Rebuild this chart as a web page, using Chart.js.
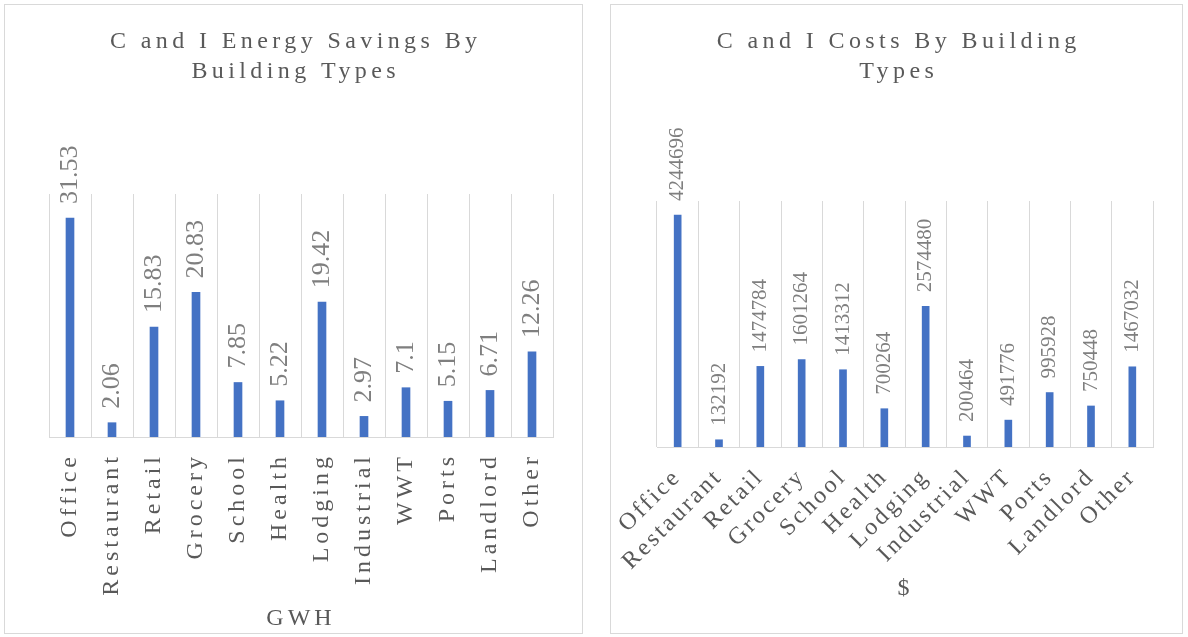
<!DOCTYPE html>
<html><head><meta charset="utf-8">
<script src="https://cdn.jsdelivr.net/npm/chart.js@4/dist/chart.umd.min.js"></script>
<style>
html,body{margin:0;padding:0;background:#fff;}
body{width:1188px;height:637px;position:relative;overflow:hidden;}
.panel{position:absolute;border:1px solid #d9d9d9;background:#fff;}
#p1{left:4px;top:4px;width:577px;height:628px;}
#p2{left:610px;top:4px;width:571px;height:628px;}
canvas{display:block;}
</style></head><body>
<div class="panel" id="p1"><canvas id="c1" width="577" height="628"></canvas></div>
<div class="panel" id="p2"><canvas id="c2" width="571" height="628"></canvas></div>
<script>
const categories = ['Office','Restaurant','Retail','Grocery','School','Health','Lodging','Industrial','WWT','Ports','Landlord','Other'];
const savingsGWH = [31.53, 2.06, 15.83, 20.83, 7.85, 5.22, 19.42, 2.97, 7.1, 5.15, 6.71, 12.26];
const costsUSD = [4244696, 132192, 1474784, 1601264, 1413312, 700264, 2574480, 200464, 491776, 995928, 750448, 1467032];
const savingsTitle = ['C and I Energy Savings By', 'Building Types'];
const costsTitle = ['C and I Costs By Building', 'Types'];
const savingsAxisTitle = 'GWH';
const costsAxisTitle = '$';
const savingsMax = 35;
const costsMax = 4500000;

const SERIF = '"Liberation Serif", "Times New Roman", serif';
const BAR = '#4472C4';
const TXT = '#595959';
const LBL = '#7f7f7f';
const GRID = '#d9d9d9';

function stylePlugin(cfg) {
  return {
    id: 'styleText',
    afterInit(chart) {
      const tb = chart.titleBlock;
      if (tb) {
        const orig = tb.draw;
        tb.draw = function (...a) {
          const c = this.ctx;
          c.save();
          c.letterSpacing = cfg.titleSpacing + 'px';
          // centre the title on the whole canvas, not on the padded area
          const dx = chart.width / 2 - (this.left + this.width / 2) + cfg.titleSpacing / 2;
          c.translate(dx, 0);
          orig.apply(this, a);
          c.restore();
        };
      }
    },
    beforeLayout(chart) { chart.ctx.letterSpacing = cfg.tickSpacing + 'px'; },
    beforeDraw(chart) { chart.ctx.letterSpacing = cfg.tickSpacing + 'px'; },
    afterDatasetsDraw(chart) {
      const ctx = chart.ctx;
      const meta = chart.getDatasetMeta(0);
      const vals = chart.data.datasets[0].data;
      meta.data.forEach((bar, i) => {
        ctx.save();
        ctx.letterSpacing = cfg.labelSpacing + 'px';
        ctx.font = cfg.labelSize + 'px ' + SERIF;
        ctx.fillStyle = LBL;
        ctx.textAlign = 'left';
        ctx.textBaseline = 'middle';
        ctx.translate(bar.x, bar.y - cfg.labelGap);
        ctx.rotate(-Math.PI / 2);
        ctx.fillText(String(vals[i]), 0, 0);
        ctx.restore();
      });
    }
  };
}

function makeChart(id, values, maxVal, title, axisTitle, o) {
  return new Chart(document.getElementById(id), {
    type: 'bar',
    data: {
      labels: categories,
      datasets: [{ data: values, backgroundColor: BAR, borderWidth: 0, barThickness: o.barThickness }]
    },
    options: {
      responsive: false,
      animation: false,
      layout: { padding: o.layoutPadding },
      plugins: {
        legend: { display: false },
        tooltip: { enabled: false },
        title: {
          display: true,
          text: title,
          color: TXT,
          font: { family: SERIF, size: 24, weight: 'normal', lineHeight: 1.25 },
          padding: o.titlePadding
        }
      },
      scales: {
        x: {
          afterFit(scale) {
            scale.height = o.axisHeight;
            scale.paddingLeft = 0;
            scale.paddingRight = 0;
          },
          grid: { display: true, color: GRID, drawTicks: false, offset: true, lineWidth: 1 },
          border: { display: true, color: GRID, width: 1 },
          ticks: {
            autoSkip: false, minRotation: o.rotation, maxRotation: o.rotation,
            padding: o.tickPadding, labelOffset: o.labelOffset,
            color: TXT, font: { family: SERIF, size: o.tickSize }
          },
          title: {
            display: true, text: axisTitle, color: TXT,
            font: { family: SERIF, size: 24, lineHeight: 1.2 },
            padding: o.axisTitlePadding
          }
        },
        y: { display: false, min: 0, max: maxVal, grid: { display: false } }
      }
    },
    plugins: [stylePlugin(o.text)]
  });
}

makeChart('c1', savingsGWH, savingsMax, savingsTitle, savingsAxisTitle, {
  barThickness: 8,
  layoutPadding: { left: 44, right: 29, top: 0, bottom: 0 },
  titlePadding: { top: 22, bottom: 107 },
  rotation: 90,
  tickPadding: 16,
  tickSize: 24,
  labelOffset: 0,
  axisHeight: 196,
  axisTitlePadding: { top: 0, bottom: 0 },
  text: { titleSpacing: 4.4, tickSpacing: 4, labelSpacing: 0, labelSize: 26, labelGap: 14 }
});

makeChart('c2', costsUSD, costsMax, costsTitle, costsAxisTitle, {
  barThickness: 7,
  layoutPadding: { left: 46, right: 29, top: 0, bottom: 30 },
  titlePadding: { top: 22, bottom: 114 },
  rotation: 45,
  tickPadding: 16,
  tickSize: 24,
  labelOffset: 0,
  axisHeight: 156,
  axisTitlePadding: { top: 0, bottom: 0 },
  text: { titleSpacing: 4.4, tickSpacing: 2.8, labelSpacing: 0, labelSize: 21, labelGap: 14 }
});
</script>
</body></html>
